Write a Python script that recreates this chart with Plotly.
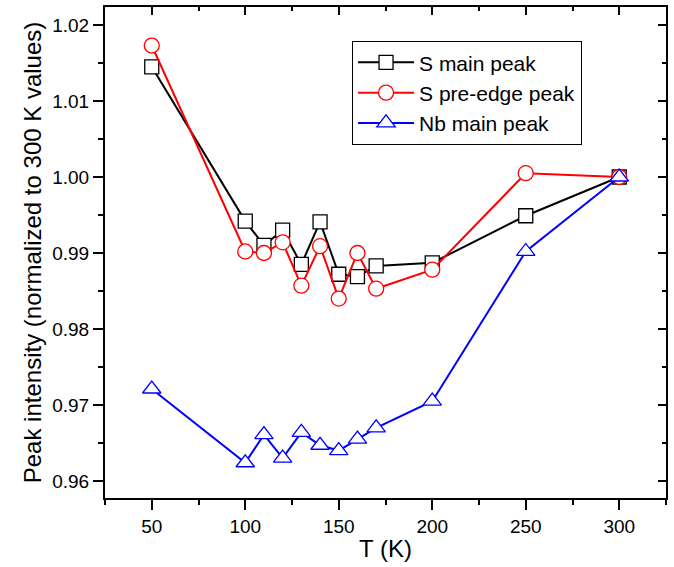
import plotly.graph_objects as go

T = [50, 100, 110, 120, 130, 140, 150, 160, 170, 200, 250, 300]
s_main = [1.0145, 0.9942, 0.9910, 0.9930, 0.9885, 0.9941, 0.9872, 0.9869, 0.9883, 0.9887, 0.9949, 1.0000]
s_pre = [1.0173, 0.9902, 0.9900, 0.9914, 0.9857, 0.9909, 0.9840, 0.9900, 0.9853, 0.9878, 1.0005, 1.0000]
nb_main = [0.9721, 0.9624, 0.9661, 0.9630, 0.9664, 0.9647, 0.9640, 0.9655, 0.9670, 0.9705, 0.9902, 1.0000]

names = ["S main peak", "S pre-edge peak", "Nb main peak"]
colors = ["black", "red", "blue"]
symbols = ["square", "circle", "triangle-up"]
sizes = [14, 15, 16]

FONT = "Arial, Liberation Sans, sans-serif"
fig = go.Figure()
for ys, n, c, sym, sz in zip([s_main, s_pre, nb_main], names, colors, symbols, sizes):
    fig.add_trace(go.Scatter(
        x=T, y=ys, name=n, mode="lines+markers",
        line=dict(color=c, width=2),
        marker=dict(symbol=sym, size=sz, color="white",
                    line=dict(color=c, width=1.3)),
    ))

# dummy trace for mirrored axes (inside ticks on top/right)
fig.add_trace(go.Scatter(x=[None], y=[None], xaxis="x2", yaxis="y2",
                         showlegend=False, hoverinfo="skip"))

xr = [25, 325]
yr = [0.95776, 1.02237]
xt = [50, 100, 150, 200, 250, 300]
xm = [25, 75, 125, 175, 225, 275, 325]
yt = [0.96, 0.97, 0.98, 0.99, 1.00, 1.01, 1.02]
ym = [0.965, 0.975, 0.985, 0.995, 1.005, 1.015]
fig.update_layout(
    width=674, height=567,
    margin=dict(l=105, r=8, t=7, b=69),
    paper_bgcolor="white", plot_bgcolor="white",
    font=dict(family=FONT, color="black", size=19),
    showlegend=True,
    legend=dict(x=0.440, y=0.9308, xanchor="left", yanchor="top",
                bordercolor="black", borderwidth=1.2, bgcolor="white",
                font=dict(size=21, family=FONT), tracegroupgap=0,
                itemwidth=56),
    xaxis=dict(range=xr, showgrid=False, zeroline=False,
               showline=True, linecolor="black", linewidth=2,
               ticks="outside", ticklen=10, tickwidth=1.5, tickcolor="black",
               tickmode="array", tickvals=xt,
               minor=dict(tickvals=xm, ticks="outside",
                          ticklen=5, tickwidth=1.5, tickcolor="black"),
               title=dict(text="T (K)", font=dict(size=24), standoff=4)),
    yaxis=dict(range=yr, showgrid=False, zeroline=False,
               showline=True, linecolor="black", linewidth=2,
               ticks="outside", ticklen=10, tickwidth=1.5, tickcolor="black",
               tickmode="array", tickvals=yt,
               ticktext=["%.2f" % v for v in yt],
               minor=dict(tickvals=ym, ticks="outside",
                          ticklen=5, tickwidth=1.5, tickcolor="black"),
               title=dict(text="Peak intensity (normalized to 300 K values)",
                          font=dict(size=24), standoff=4)),
    xaxis2=dict(range=xr, overlaying="x", side="top", showgrid=False, zeroline=False,
                showline=True, linecolor="black", linewidth=2,
                ticks="inside", ticklen=8, tickwidth=1.5, tickcolor="black",
                tickmode="array", tickvals=xt,
                minor=dict(tickvals=xm, ticks="inside",
                           ticklen=4, tickwidth=1.5, tickcolor="black"),
                showticklabels=False),
    yaxis2=dict(range=yr, overlaying="y", side="right", showgrid=False, zeroline=False,
                showline=True, linecolor="black", linewidth=2,
                ticks="inside", ticklen=8, tickwidth=1.5, tickcolor="black",
                tickmode="array", tickvals=yt,
                minor=dict(tickvals=ym, ticks="inside",
                           ticklen=4, tickwidth=1.5, tickcolor="black"),
                showticklabels=False),
)
fig.update_xaxes(tickfont=dict(size=19, family=FONT, color="black"), selector=dict(side="bottom"))
fig.update_yaxes(tickfont=dict(size=19, family=FONT, color="black"), selector=dict(side="left"))
fig.write_html("out.html")
